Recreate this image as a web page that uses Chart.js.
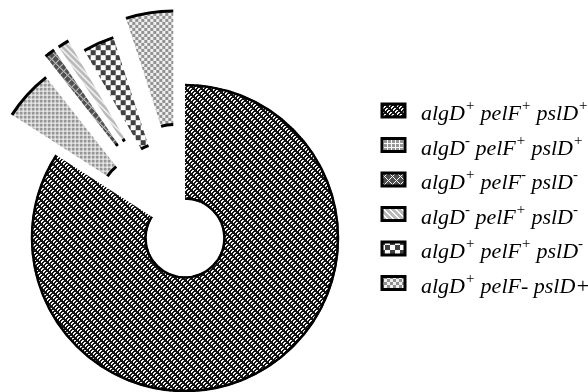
<!DOCTYPE html>
<html>
<head>
<meta charset="utf-8">
<script src="https://cdn.jsdelivr.net/npm/chart.js"></script>
<style>
  html, body { margin: 0; padding: 0; background: #fff; }
  #wrap { width: 588px; height: 392px; position: relative; }
</style>
</head>
<body>
<div id="wrap"><canvas id="donut"></canvas></div>
<script>
// categories: "^x" means x is written as a superscript
const CATEGORIES = [
  'algD^+ pelF^+ pslD^+',
  'algD^- pelF^+ pslD^+',
  'algD^+ pelF^- pslD^-',
  'algD^- pelF^+ pslD^-',
  'algD^+ pelF^+ pslD^-',
  'algD^+ pelF- pslD+'
];
// share of isolates (%)
const VALUES = [84.1, 5.3, 1.1, 1.2, 3.3, 5.0];

// how far each slice is pulled out of the ring (px)
const PULL = [0, 60, 76, 76, 60, 75];

// little grey-scale tiles used as fills
function tile(w, h, fn) {
  const c = document.createElement('canvas');
  c.width = w; c.height = h;
  const g = c.getContext('2d');
  const img = g.createImageData(w, h);
  for (let y = 0; y < h; y++) {
    for (let x = 0; x < w; x++) {
      const v = fn(x, y);
      const k = (y * w + x) * 4;
      img.data[k] = img.data[k + 1] = img.data[k + 2] = v;
      img.data[k + 3] = 255;
    }
  }
  g.putImageData(img, 0, 0);
  return g.createPattern(c, 'repeat');
}

const fills = [
  // black with white "/" dashes
  tile(8, 8, (x, y) => (((x + y) % 4) < 2 || ((x - y + 16) % 8) < 3) ? 20 : 245),
  // fine grey dots
  tile(4, 4, (x, y) => (x < 3 && y < 3) ? 150 : 250),
  // dark with white diagonal lattice
  tile(8, 8, (x, y) => ((x + y) % 8 === 0 || (x - y + 8) % 8 === 0) ? 250 : 80),
  // light grey stripes
  tile(6, 6, (x, y) => ((x - y + 6) % 6) < 2 ? 250 : 185),
  // coarse checker
  tile(10, 10, (x, y) => ((Math.floor(x / 5) + Math.floor(y / 5)) % 2) ? 250 : 65),
  // light checker
  tile(6, 6, (x, y) => ((Math.floor(x / 3) + Math.floor(y / 3)) % 2) ? 240 : 145)
];

// draws every arc shifted out along its middle angle, with black rims only on the curved edges
const explode = {
  id: 'explode',
  beforeDatasetDraw(chart, args) {
    const ctx = chart.ctx;
    args.meta.data.forEach((arc, i) => {
      const mid = (arc.startAngle + arc.endAngle) / 2;
      ctx.save();
      ctx.translate(Math.cos(mid) * PULL[i], Math.sin(mid) * PULL[i]);
      arc.draw(ctx);
      ctx.strokeStyle = '#000';
      ctx.lineWidth = i === 0 ? 2.5 : 3;
      ctx.beginPath();
      ctx.arc(arc.x, arc.y, arc.outerRadius - 1, arc.startAngle, arc.endAngle);
      ctx.stroke();
      ctx.beginPath();
      ctx.arc(arc.x, arc.y, arc.innerRadius + 1, arc.startAngle, arc.endAngle);
      ctx.stroke();
      ctx.restore();
    });
    return false;
  }
};

function drawLabel(ctx, text, x, y) {
  const parts = text.split(/(\^.)/).filter(p => p.length);
  parts.forEach(p => {
    if (p[0] === '^') {
      ctx.font = 'italic 15px "Liberation Serif"';
      ctx.fillText(p[1], x, y - 10);
      x += ctx.measureText(p[1]).width;
    } else {
      ctx.font = 'italic 22px "Liberation Serif"';
      ctx.fillText(p, x, y);
      x += ctx.measureText(p).width;
    }
  });
}

const sideLegend = {
  id: 'sideLegend',
  afterDraw(chart) {
    const ctx = chart.ctx;
    ctx.save();
    CATEGORIES.forEach((c, i) => {
      const cy = 110 + i * 34.5;
      ctx.fillStyle = fills[i];
      ctx.fillRect(382, cy - 6, 23, 13);
      ctx.strokeStyle = '#000';
      ctx.lineWidth = 3;
      ctx.strokeRect(382, cy - 6, 23, 13);
      ctx.fillStyle = '#000';
      ctx.textBaseline = 'alphabetic';
      drawLabel(ctx, c, 421, cy + 10);
    });
    ctx.restore();
  }
};

new Chart(document.getElementById('donut'), {
  type: 'doughnut',
  data: {
    labels: CATEGORIES,
    datasets: [{
      data: VALUES,
      backgroundColor: fills,
      borderWidth: 0,
      hoverOffset: 0,
      clip: false
    }]
  },
  options: {
    responsive: true,
    maintainAspectRatio: false,
    animation: false,
    radius: 154,
    cutout: '25%',
    layout: { padding: { left: 0, right: 218, top: 84, bottom: 0 } },
    plugins: {
      legend: { display: false },
      tooltip: { enabled: false }
    }
  },
  plugins: [explode, sideLegend]
});
</script>
</body>
</html>
